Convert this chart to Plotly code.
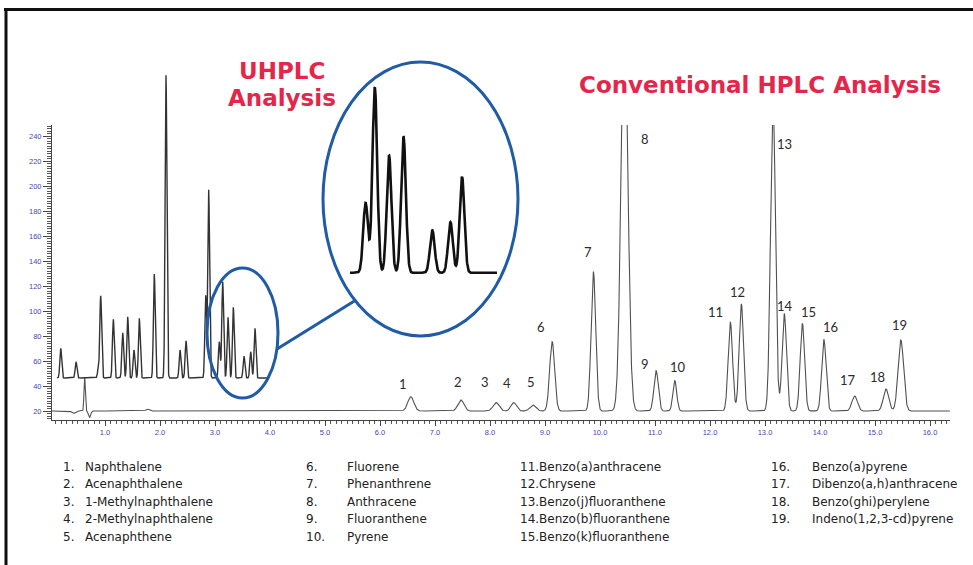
import numpy as np
import plotly.graph_objects as go

# ---------------- data ----------------
# Conventional HPLC chromatogram: 19 PAH peaks (retention time, height above baseline, sigma)
hplc_labels = [str(i) for i in range(1, 20)]
hplc_rt = [6.56, 7.47, 8.11, 8.43, 8.78, 9.13, 9.88, 10.445, 11.02, 11.36,
           12.37, 12.57, 13.145, 13.35, 13.68, 14.07, 14.63, 15.20, 15.47]
hplc_height = [11.4, 8.8, 6.7, 6.7, 4.8, 55.5, 111.4, 324, 32.3, 24.3,
               71.0, 85.6, 252, 78.0, 70.0, 57.3, 12.0, 17.6, 56.8]
hplc_sigma = [0.055, 0.055, 0.055, 0.05, 0.055, 0.045, 0.042, 0.061, 0.04, 0.035,
              0.04, 0.04, 0.044, 0.04, 0.04, 0.04, 0.05, 0.05, 0.05]
hplc_baseline = 20.0
# solvent-front disturbance features
front_rt = [0.43, 0.63, 0.72, 1.77]
front_height = [-2.0, 27.0, -5.0, 1.5]
front_sigma = [0.03, 0.012, 0.02, 0.03]

# UHPLC chromatogram (inset, same 19 PAHs compressed in time)
uhplc_rt = [0.195, 0.473, 0.878, 0.922, 1.151, 1.322, 1.413, 1.527, 1.624, 1.896, 2.109,
            2.364, 2.473, 2.831, 2.885, 3.078, 3.140, 3.236, 3.333, 3.527, 3.649, 3.727]
uhplc_height = [23.8, 13.0, 6.4, 65.6, 47.0, 36.2, 49.0, 22.4, 47.8, 83.2, 242.4,
                22.4, 29.8, 65.6, 150.4, 29.0, 77.0, 48.6, 56.6, 17.6, 21.0, 39.8]
uhplc_sigma = 0.016
uhplc_baseline = 46.4
uhplc_start, uhplc_end = 0.127, 3.964

compound_names = ["Naphthalene", "Acenaphthalene", "1-Methylnaphthalene", "2-Methylnaphthalene",
                  "Acenaphthene", "Fluorene", "Phenanthrene", "Anthracene", "Fluoranthene", "Pyrene",
                  "Benzo(a)anthracene", "Chrysene", "Benzo(j)fluoranthene", "Benzo(b)fluoranthene",
                  "Benzo(k)fluoranthene", "Benzo(a)pyrene", "Dibenzo(a,h)anthracene",
                  "Benzo(ghi)perylene", "Indeno(1,2,3-cd)pyrene"]

# peak-number label positions (in chart units)
label_t = [6.42, 7.41, 7.90, 8.30, 8.75, 8.92, 9.78, 10.81, 10.81, 11.42,
           12.10, 12.50, 13.36, 13.37, 13.79, 14.19, 14.51, 15.04, 15.45]
label_v = [41.6, 43.5, 43.5, 42.7, 43.5, 87.5, 147.5, 237.6, 57.4, 55.0,
           99.0, 115.5, 233.4, 104.3, 99.0, 87.0, 44.5, 47.6, 88.8]

# ---------------- layout constants ----------------
W, H = 973, 565
px = lambda x: x / W
py = lambda y: 1 - y / H
RED = "#e4264a"
BLUE = "#1f5ba6"
TICK = "#4444c0"


def gauss_sum(t, rts, hs, sigs, base):
    t = np.asarray(t)
    y = np.full_like(t, base, dtype=float)
    sigs = np.broadcast_to(np.asarray(sigs, dtype=float), (len(rts),))
    for r, h, s in zip(rts, hs, sigs):
        y += h * np.exp(-0.5 * ((t - r) / s) ** 2)
    return y


t_main = np.arange(0.036, 16.364, 0.003)
v_main = gauss_sum(t_main, hplc_rt + front_rt, hplc_height + front_height,
                   hplc_sigma + front_sigma, hplc_baseline)

t_u = np.arange(uhplc_start, uhplc_end, 0.0015)
v_u = gauss_sum(t_u, uhplc_rt, uhplc_height, uhplc_sigma, uhplc_baseline)

fig = go.Figure()
fig.add_trace(go.Scatter(x=t_main, y=v_main, mode="lines", xaxis="x", yaxis="y",
                         line=dict(color="#505050", width=1.1), hoverinfo="skip"))
fig.add_trace(go.Scatter(x=t_u, y=v_u, mode="lines", xaxis="x2", yaxis="y2",
                         line=dict(color="#333333", width=1.4), hoverinfo="skip"))
fig.add_trace(go.Scatter(x=t_u, y=v_u, mode="lines", xaxis="x3", yaxis="y3",
                         line=dict(color="#111111", width=2.6), hoverinfo="skip"))

annotations = []
# peak numbers
for lab, lt, lv in zip(hplc_labels, label_t, label_v):
    annotations.append(dict(x=lt, y=lv, xref="x", yref="y", text=lab, showarrow=False,
                            font=dict(family="Lato", size=13, color="#2b2b2b"),
                            xanchor="center", yanchor="middle"))
# titles
annotations.append(dict(x=px(282), y=py(71), xref="paper", yref="paper", text="<b>UHPLC</b>",
                        showarrow=False, font=dict(family="DejaVu Sans", size=23, color=RED),
                        xanchor="center", yanchor="middle"))
annotations.append(dict(x=px(282), y=py(98), xref="paper", yref="paper", text="<b>Analysis</b>",
                        showarrow=False, font=dict(family="DejaVu Sans", size=23, color=RED),
                        xanchor="center", yanchor="middle"))
annotations.append(dict(x=px(760), y=py(85), xref="paper", yref="paper",
                        text="<b>Conventional HPLC Analysis</b>",
                        showarrow=False, font=dict(family="DejaVu Sans", size=23, color=RED),
                        xanchor="center", yanchor="middle"))
# compound legend
row_y = [466.7, 484.3, 501.7, 519.3, 536.7]
lfont = dict(family="DejaVu Sans", size=12, color="#222222")
for i, name in enumerate(compound_names):
    col, row = divmod(i, 5)
    num = f"{i + 1}."
    yy = py(row_y[row])
    if col == 0:
        annotations.append(dict(x=px(61), y=yy, text=num, xanchor="left"))
        annotations.append(dict(x=px(82.5), y=yy, text=name, xanchor="left"))
    elif col == 1:
        annotations.append(dict(x=px(304), y=yy, text=num, xanchor="left"))
        annotations.append(dict(x=px(345), y=yy, text=name, xanchor="left"))
    elif col == 2:
        annotations.append(dict(x=px(518), y=yy, text=num + name, xanchor="left"))
    else:
        annotations.append(dict(x=px(769), y=yy, text=num, xanchor="left"))
        annotations.append(dict(x=px(810), y=yy, text=name, xanchor="left"))
for a in annotations:
    if "xref" not in a:
        a.update(xref="paper", yref="paper", showarrow=False, font=lfont, yanchor="middle")

shapes = [
    dict(type="circle", xref="paper", yref="paper", x0=px(323), x1=px(518), y0=py(336), y1=py(62),
         line=dict(color=BLUE, width=3)),
    dict(type="circle", xref="paper", yref="paper", x0=px(207), x1=px(278), y0=py(398), y1=py(268),
         line=dict(color=BLUE, width=3)),
    dict(type="line", xref="paper", yref="paper", x0=px(277), y0=py(349), x1=px(356), y1=py(300),
         line=dict(color=BLUE, width=3)),
    # frame
    dict(type="line", xref="paper", yref="paper", x0=px(4), y0=py(9.5), x1=px(973), y1=py(9.5),
         line=dict(color="#111111", width=3)),
    dict(type="line", xref="paper", yref="paper", x0=px(6), y0=py(8), x1=px(6), y1=py(565),
         line=dict(color="#111111", width=3)),
]

x_dom = [px(52), px(950)]
x_rng = [(52 - 50) / 55, (950 - 50) / 55]
fig.update_layout(
    width=W, height=H, margin=dict(l=0, r=0, t=0, b=0),
    paper_bgcolor="white", plot_bgcolor="rgba(0,0,0,0)", showlegend=False,
    xaxis=dict(domain=x_dom, range=x_rng, dtick=1, tick0=0, tickformat=".1f",
               showgrid=False, zeroline=False, showline=True, linecolor="#444", linewidth=1,
               ticks="outside", ticklen=5, tickcolor="#444", tickwidth=1,
               tickfont=dict(family="Liberation Sans", size=7.5, color=TICK),
               minor=dict(dtick=0.1, ticks="outside", ticklen=3, tickcolor="#555", tickwidth=1),
               anchor="y", fixedrange=True),
    yaxis=dict(domain=[py(420), py(125)], range=[12.8, 248.8], dtick=20, tick0=0,
               showgrid=False, zeroline=False, showline=True, linecolor="#444", linewidth=1,
               ticks="outside", ticklen=8, tickcolor="#444", tickwidth=1,
               tickfont=dict(family="Liberation Sans", size=7.5, color=TICK),
               minor=dict(dtick=2, ticks="outside", ticklen=4, tickcolor="#555", tickwidth=1),
               anchor="x", fixedrange=True),
    xaxis2=dict(domain=x_dom, range=x_rng, visible=False, anchor="y2", fixedrange=True),
    yaxis2=dict(domain=[py(420), py(55)], range=[12.8, (436 - 55) / 1.25], visible=False,
                anchor="x2", fixedrange=True),
    xaxis3=dict(domain=[px(350), px(498)], range=[2.973, 3.969], visible=False, anchor="y3",
                fixedrange=True),
    yaxis3=dict(domain=[py(290), py(75)], range=[39.26, 128.5], visible=False, anchor="x3",
                fixedrange=True),
    annotations=annotations, shapes=shapes,
)

fig.write_html("out.html", config={"displayModeBar": False},
               post_script="document.body.style.margin='0';document.body.style.overflow='hidden';")
